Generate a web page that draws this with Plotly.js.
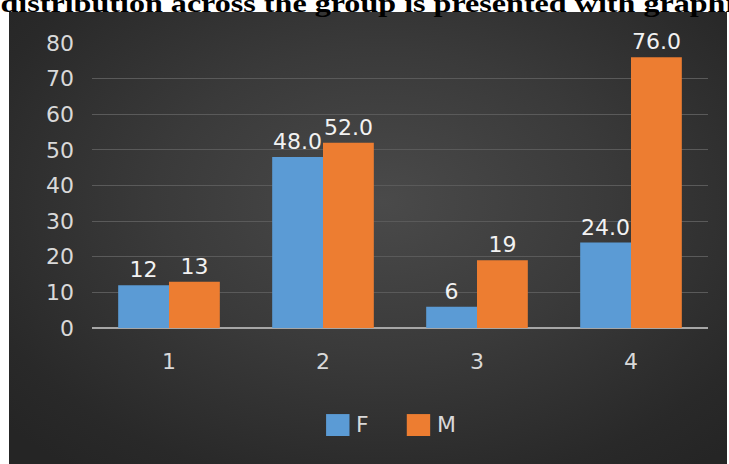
<!DOCTYPE html>
<html>
<head>
<meta charset="utf-8">
<script src="https://cdn.plot.ly/plotly-3.0.1.min.js"></script>
<style>
  html, body { margin: 0; padding: 0; background: #ffffff; }
  #wrap { position: relative; width: 729px; height: 464px; overflow: hidden; background: #ffffff; }
  #bg { position: absolute; left: 9px; top: 12px; width: 718px; height: 452px;
        background: radial-gradient(ellipse 70% 75% at 52% 42%, #4a4a4a 0%, #3a3a3a 45%, #292929 85%, #252525 100%); }
  #chart { position: absolute; left: 0; top: 0; width: 729px; height: 464px; }
</style>
</head>
<body>
<div id="wrap"><div id="bg"></div><div id="chart"></div></div>
<script>
const categories = ['1', '2', '3', '4'];
const seriesNames = ['F', 'M'];
const seriesColors = ['#5b9bd5', '#ed7d31'];
const femaleValues = [12, 48, 6, 24];
const maleValues = [13, 52, 19, 76];
const femaleLabels = ['12', '48.0', '6', '24.0'];
const maleLabels = ['13', '52.0', '19', '76.0'];
const yTicks = [0, 10, 20, 30, 40, 50, 60, 70, 80];
const headerText = 'distribution across the group is presented with graphical';

const numFont = 'DejaVu Sans, sans-serif';
const labelFont = { family: numFont, size: 22, color: '#f2f2f2' };
const tickFont = { family: numFont, size: 22, color: '#d9d9d9' };

const traces = [
  { type: 'bar', name: seriesNames[0], x: categories, y: femaleValues, text: femaleLabels,
    textposition: 'outside', textfont: labelFont, constraintext: 'none', cliponaxis: false,
    marker: { color: seriesColors[0] }, showlegend: false },
  { type: 'bar', name: seriesNames[1], x: categories, y: maleValues, text: maleLabels,
    textposition: 'outside', textfont: labelFont, constraintext: 'none', cliponaxis: false,
    marker: { color: seriesColors[1] }, showlegend: false }
];

// custom legend (large swatches like the original), built from series names/colours
const legendSwatchX = [0.380, 0.511];
const shapes = seriesColors.map((c, i) => ({
  type: 'rect', xref: 'paper', yref: 'paper',
  x0: legendSwatchX[i], x1: legendSwatchX[i] + 0.038, y0: -0.379, y1: -0.302,
  fillcolor: c, line: { width: 0 }
}));
const legendAnnotations = seriesNames.map((n, i) => ({
  xref: 'paper', yref: 'paper', x: legendSwatchX[i] + 0.046, xanchor: 'left',
  y: -0.340, yanchor: 'middle', showarrow: false, text: n, font: tickFont
}));

const layout = {
  width: 729, height: 464,
  paper_bgcolor: 'rgba(0,0,0,0)', plot_bgcolor: 'rgba(0,0,0,0)',
  margin: { l: 92, r: 21, t: 43, b: 136 },
  barmode: 'group', bargap: 0.34, bargroupgap: 0,
  font: { family: numFont, color: '#d9d9d9' },
  xaxis: {
    type: 'category', showgrid: false, zeroline: false,
    showline: false, ticks: '', ticklabelstandoff: 18, tickfont: tickFont
  },
  yaxis: {
    range: [0, 80], tickvals: yTicks, showgrid: true, gridcolor: '#5a5a5a', gridwidth: 1,
    zeroline: true, zerolinecolor: '#a6a6a6', zerolinewidth: 2,
    showline: false, ticks: '', ticklabelstandoff: 17, tickfont: tickFont
  },
  showlegend: false,
  shapes: shapes,
  annotations: [{
    xref: 'paper', yref: 'paper', x: -0.1494, xanchor: 'left',
    y: 1.0805, yanchor: 'bottom', showarrow: false, align: 'left',
    text: '<b>' + headerText + '</b>',
    font: { family: 'Liberation Serif, Times New Roman, serif', size: 26, color: '#000000' }
  }].concat(legendAnnotations)
};

Plotly.newPlot('chart', traces, layout, { displayModeBar: false, staticPlot: true }).then(() => {
  const t = document.querySelector('.annotation .annotation-text');
  if (t) {
    const s = 1.235;
    t.style.transformBox = 'fill-box';
    t.style.transformOrigin = '0% 50%';
    t.style.transform = 'scaleX(' + s + ')';
    const wrapLeft = document.getElementById('wrap').getBoundingClientRect().left;
    const r = t.getBoundingClientRect();
    const dx = wrapLeft + 0.5 - r.left;
    t.style.transform = 'translateX(' + dx + 'px) scaleX(' + s + ')';
  }
});
</script>
</body>
</html>
